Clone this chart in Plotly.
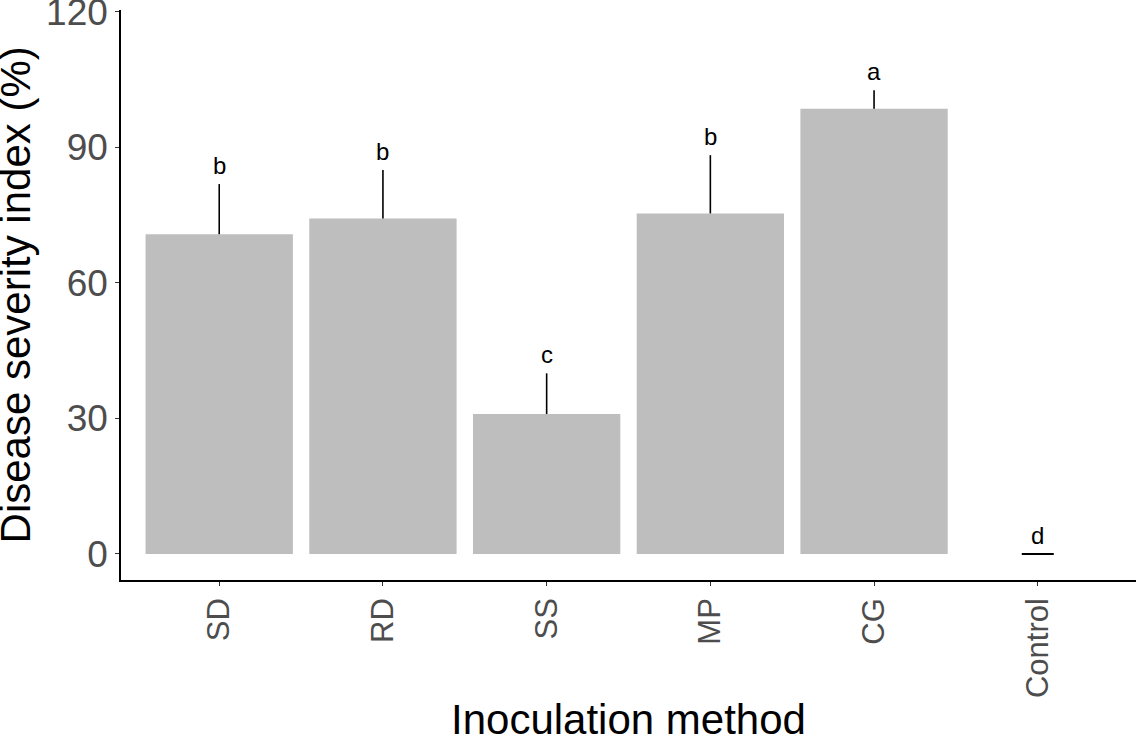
import plotly.graph_objects as go

# inoculation methods and disease severity (mean, upper error)
methods = ["SD", "RD", "SS", "MP", "CG", "Control"]
severity = [70.8, 74.3, 31.0, 75.4, 98.6, 0.0]
err_up = [11.1, 10.7, 9.0, 12.9, 4.1, 0.0]
letters = ["b", "b", "c", "b", "a", "d"]

BAR = "#BEBEBE"
TICK = "#4D4D4D"
FONT = "Liberation Sans, Arial, sans-serif"

fig = go.Figure()

# treated groups: upper error bar only, no caps
fig.add_trace(go.Bar(
    x=methods[:-1], y=severity[:-1], width=0.9,
    marker=dict(color=BAR, line=dict(width=0)),
    error_y=dict(type="data", symmetric=False, array=err_up[:-1],
                 arrayminus=[0] * 5, color="black", thickness=1.6, width=0),
    showlegend=False))

# control: zero bar, only the cap shows
fig.add_trace(go.Bar(
    x=methods[-1:], y=severity[-1:], width=0.9,
    marker=dict(color=BAR, line=dict(width=0)),
    error_y=dict(type="data", symmetric=False, array=err_up[-1:],
                 arrayminus=[0], color="black", thickness=2, width=16),
    showlegend=False))

for m, v, e, t in zip(methods, severity, err_up, letters):
    fig.add_annotation(x=m, y=v + e, text=t, showarrow=False,
                       yanchor="bottom", yshift=3,
                       font=dict(family=FONT, size=24, color="black"))

# axis titles placed by hand (plot area: x 121..1136, y 10..580 px)
fig.add_annotation(text="Inoculation method", xref="paper", yref="paper",
                   x=0.5, y=-0.244, xanchor="center", yanchor="middle",
                   showarrow=False,
                   font=dict(family=FONT, size=42, color="black"))
fig.add_annotation(text="Disease severity index (%)", xref="paper", yref="paper",
                   x=-0.104, y=0.5, xanchor="center", yanchor="middle",
                   textangle=-90, showarrow=False,
                   font=dict(family=FONT, size=42, color="black"))

fig.update_layout(
    width=1136, height=736,
    margin=dict(l=121, r=0, t=10, b=156),
    paper_bgcolor="white", plot_bgcolor="white",
    barmode="overlay",
    font=dict(family=FONT),
    xaxis=dict(
        type="category", range=[-0.6, 5.6], automargin=False,
        showline=True, linecolor="black", linewidth=1.5,
        ticks="outside", ticklen=4, tickcolor="#333333", tickwidth=1.2,
        tickangle=-90, tickfont=dict(family=FONT, size=31, color=TICK),
        showgrid=False, zeroline=False),
    yaxis=dict(
        range=[-5.76, 120.44], automargin=False,
        tickvals=[0, 30, 60, 90, 120], ticklabeloverflow="allow",
        showline=True, linecolor="black", linewidth=1.5,
        ticks="outside", ticklen=4, tickcolor="#333333", tickwidth=1.2,
        tickfont=dict(family=FONT, size=37, color=TICK),
        showgrid=False, zeroline=False),
)

# drop the browser's default body margin so the figure sits at the page corner
fig.write_html("out.html", config={"displayModeBar": False},
               post_script="document.body.style.margin = '0';")
